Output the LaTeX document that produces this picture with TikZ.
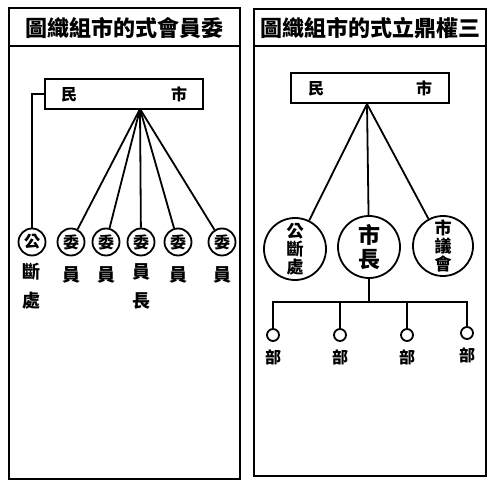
\documentclass[tikz,border=0pt]{standalone}
\usepackage{fontspec}
\newfontfamily\cjk{Noto Sans CJK TC}
\begin{document}
\begin{tikzpicture}[x=1pt,y=-1pt,line width=1.8pt,every node/.style={font=\cjk\bfseries\fontsize{16}{17}\selectfont,inner sep=0pt},
  frame/.style={line width=2.4pt},
  title/.style={font=\cjk\bfseries\fontsize{22}{22}\selectfont},
  citizen/.style={draw,minimum width=158pt,minimum height=30pt},
  ring/.style={draw,circle,minimum size=27pt},
  bigring/.style={draw,circle,minimum size=62pt,align=center,font=\cjk\bfseries\fontsize{17}{18}\selectfont},
  dot/.style={draw,circle,minimum size=12pt},
  tall/.style={align=center,font=\cjk\bfseries\fontsize{18}{29}\selectfont}]
\useasboundingbox (0,0) rectangle (490,481);
\draw[frame] (9,8) rectangle (240,479);
\draw[frame] (9,46) -- (240,46);
\draw[frame] (254,9) rectangle (486,476);
\draw[frame] (254,46) -- (486,46);
\node[title] at (124,28) {圖織組市的式會員委};
\node[title] at (370,28) {圖織組市的式立鼎權三};
\coordinate (tipL) at (140,109);
\coordinate (tipR) at (367,104);
\coordinate (busC) at (369,302);
\node[citizen] (citizenL) at (124,94) {民\hspace{94pt}市};
\node[ring] (gong) at (32,242) {公};
\node[ring] (wei1) at (71,242) {委};
\node[ring] (wei2) at (106,242) {委};
\node[ring] (wei3) at (141,242) {委};
\node[ring] (wei4) at (178,242) {委};
\node[ring] (wei5) at (222,242) {委};
\node[tall] (gongL) at (32,286) {斷\\處};
\node[tall] (wei1L) at (71,275) {員};
\node[tall] (wei2L) at (106,275) {員};
\node[tall,anchor=north] (wei3L) at (141,263) {員\\長};
\node[tall] (wei4L) at (178,275) {員};
\node[tall] (wei5L) at (222,275) {員};
\draw (citizenL.west) -| (gong.north);
\foreach \w in {wei1,wei2,wei3,wei4,wei5}
  \draw (tipL) -- (\w);
\node[citizen] (citizenR) at (370,88) {民\hspace{92pt}市};
\node[bigring] (court) at (295,249) {公\\斷\\處};
\node[bigring,font=\cjk\bfseries\fontsize{22}{24}\selectfont] (mayor) at (369,247) {市\\長};
\node[bigring,minimum size=60pt] (council) at (443,246) {市\\議\\會};
\draw (tipR) -- (court);
\draw (tipR) -- (mayor);
\draw (tipR) -- (council);
\node[dot] (dept1) at (273,335) {};
\node[dot] (dept2) at (340,335) {};
\node[dot] (dept3) at (407,335) {};
\node[dot] (dept4) at (467,333) {};
\node (dept1L) at (273,357) {部};
\node (dept2L) at (340,357) {部};
\node (dept3L) at (407,357) {部};
\node (dept4L) at (467,355) {部};
\draw[line width=2.8pt] (mayor) -- (busC);
\draw (dept1.north) |- (busC) -| (dept4.north);
\draw (dept2.north) -- (dept2.north |- busC);
\draw (dept3.north) -- (dept3.north |- busC);
\end{tikzpicture}
\end{document}
